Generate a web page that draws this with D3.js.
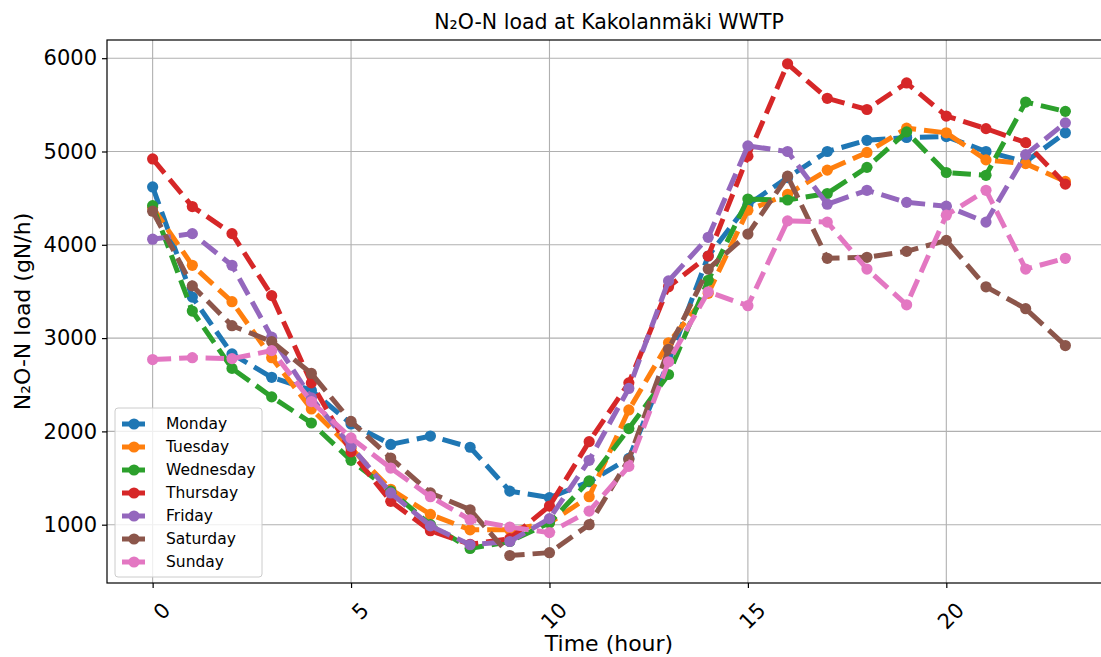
<!DOCTYPE html>
<html><head><meta charset="utf-8">
<script src="https://cdn.jsdelivr.net/npm/d3@7"></script>
<style>body{margin:0;background:#fff;font-family:"DejaVu Sans",sans-serif;overflow:hidden;}</style>
</head><body><svg id="c" width="1101" height="657"></svg>
<script>
const hours = d3.range(0,24);
const days = ["Monday","Tuesday","Wednesday","Thursday","Friday","Saturday","Sunday"];
const colors = ["#1f77b4","#ff7f0e","#2ca02c","#d62728","#9467bd","#8c564b","#e377c2"];
const monday    = [4620,3440,2830,2580,2440,2080,1860,1950,1830,1360,1290,1460,1710,2750,3880,4430,4720,5000,5120,5150,5160,5000,4890,5200];
const tuesday   = [4400,3780,3390,2790,2240,1820,1380,1110,945,945,1020,1300,2230,2950,3480,4370,4540,4800,4990,5250,5200,4910,4870,4680];
const wednesday = [4420,3290,2675,2370,2090,1690,1360,1000,745,820,1020,1470,2030,2610,3620,4490,4480,4550,4830,5210,4775,4745,5530,5430];
const thursday  = [4920,4410,4120,3455,2520,1780,1250,935,790,850,1200,1890,2520,3550,3880,4950,5940,5570,5450,5735,5380,5245,5095,4650];
const friday    = [4060,4120,3780,3010,2360,1840,1340,987,785,820,1065,1690,2460,3613,4080,5060,5000,4435,4584,4455,4414,4243,4966,5307];
const saturday  = [4360,3560,3133,2963,2621,2107,1714,1340,1160,670,700,1000,1700,2880,3740,4115,4735,3855,3866,3930,4047,3550,3315,2920];
const sunday    = [2770,2790,2780,2866,2320,1930,1607,1300,1053,975,915,1145,1625,2746,3496,3347,4256,4243,3740,3357,4317,4584,3740,3855];
const seriesVals = [monday,tuesday,wednesday,thursday,friday,saturday,sunday];
const xTicks = [0,5,10,15,20];
const yTicks = [1000,2000,3000,4000,5000,6000];

const svg = d3.select("#c");
const L=107,R=1111,T=40,B=583;
const x = d3.scaleLinear().domain([-1.15,24.15]).range([L,R]);
const y = d3.scaleLinear().domain([375,6195]).range([B,T]);

// grid
const g = svg.append("g");
g.selectAll(".gx").data(xTicks).join("line").attr("x1",d=>x(d)).attr("x2",d=>x(d)).attr("y1",T).attr("y2",B)
 .attr("stroke","#b0b0b0").attr("stroke-width",1.1);
g.selectAll(".gy").data(yTicks).join("line").attr("y1",d=>y(d)).attr("y2",d=>y(d)).attr("x1",L).attr("x2",R)
 .attr("stroke","#b0b0b0").attr("stroke-width",1.1);

// axes
const xa = svg.append("g").attr("transform",`translate(0,${B})`)
 .call(d3.axisBottom(x).tickValues(xTicks).tickSize(5).tickPadding(4).tickSizeOuter(0));
xa.select(".domain").remove();
xa.selectAll("line").attr("stroke","#000").attr("stroke-width",1.2);
xa.selectAll("text").attr("font-size",21).attr("font-family","DejaVu Sans").attr("fill","#000")
 .attr("text-anchor","end").attr("dy",null).attr("dominant-baseline","middle")
 .attr("transform","translate(8,18) rotate(-45)");
const ya = svg.append("g").attr("transform",`translate(${L},0)`)
 .call(d3.axisLeft(y).tickValues(yTicks).tickSize(5).tickPadding(5).tickSizeOuter(0).tickFormat(d3.format("d")));
ya.select(".domain").remove();
ya.selectAll("line").attr("stroke","#000").attr("stroke-width",1.2);
ya.selectAll("text").attr("font-size",21).attr("font-family","DejaVu Sans").attr("fill","#000");

// lines
const line = d3.line().x((d,i)=>x(hours[i])).y(d=>y(d));
seriesVals.forEach((vals,k)=>{
  svg.append("path").datum(vals).attr("d",line).attr("fill","none").attr("stroke",colors[k])
    .attr("stroke-width",5).attr("stroke-dasharray","18.5,8");
  svg.append("g").selectAll("circle").data(vals).join("circle")
    .attr("cx",(d,i)=>x(hours[i])).attr("cy",d=>y(d)).attr("r",5.6).attr("fill",colors[k]);
});

// frame
svg.append("rect").attr("x",L).attr("y",T).attr("width",R-L).attr("height",B-T)
 .attr("fill","none").attr("stroke","#000").attr("stroke-width",1.2);

// legend
const lg = svg.append("g");
lg.append("rect").attr("x",115).attr("y",408).attr("width",147).attr("height",169).attr("rx",3)
 .attr("fill","#fff").attr("fill-opacity",0.8).attr("stroke","#cccccc");
days.forEach((d,k)=>{
  const yy = 424 + k*23;
  lg.append("line").attr("x1",122).attr("x2",145).attr("y1",yy).attr("y2",yy)
    .attr("stroke",colors[k]).attr("stroke-width",5);
  lg.append("circle").attr("cx",134).attr("cy",yy).attr("r",5.6).attr("fill",colors[k]);
  lg.append("text").attr("x",166).attr("y",yy).attr("dominant-baseline","central")
    .attr("font-size",15.5).attr("font-family","DejaVu Sans").text(d);
});

// titles
svg.append("text").attr("x",(L+R)/2).attr("y",29).attr("text-anchor","middle").attr("font-size",20.5)
 .attr("font-family","DejaVu Sans").text("N₂O-N load at Kakolanmäki WWTP");
svg.append("text").attr("x",(L+R)/2).attr("y",651).attr("text-anchor","middle").attr("font-size",22)
 .attr("font-family","DejaVu Sans").text("Time (hour)");
svg.append("text").attr("transform",`translate(30,${(T+B)/2}) rotate(-90)`).attr("text-anchor","middle")
 .attr("font-size",22).attr("font-family","DejaVu Sans").text("N₂O-N load (gN/h)");
</script></body></html>
